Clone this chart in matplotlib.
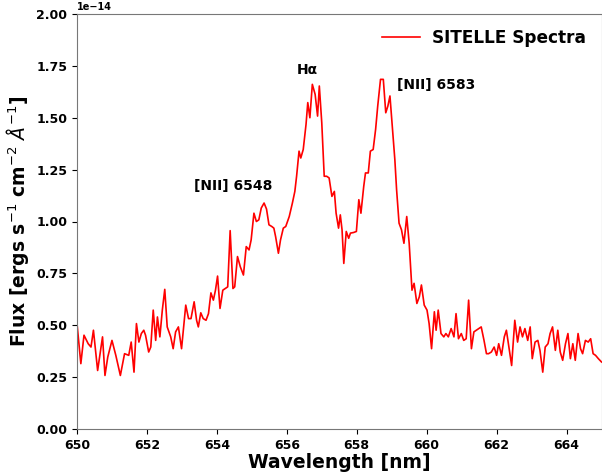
import matplotlib
matplotlib.use("Agg")
import matplotlib.pyplot as plt
import numpy as np

# Wavelength [nm]
wavelength = [
    650.00, 650.11, 650.20, 650.32, 650.40, 650.47, 650.59, 650.73, 650.80, 650.88,
    651.00, 651.11, 651.24, 651.36, 651.48, 651.55, 651.63, 651.70, 651.77, 651.84,
    651.91, 651.96, 652.05, 652.11, 652.18, 652.25, 652.30, 652.37, 652.44, 652.51,
    652.58, 652.68, 652.75, 652.82, 652.90, 652.99, 653.11, 653.19, 653.26, 653.35,
    653.42, 653.47, 653.54, 653.61, 653.69, 653.76, 653.83, 653.90, 653.96, 654.02,
    654.09, 654.17, 654.24, 654.31, 654.38, 654.46, 654.51, 654.59, 654.67, 654.76,
    654.84, 654.92, 654.98, 655.06, 655.13, 655.20, 655.27, 655.35, 655.42, 655.49,
    655.57, 655.63, 655.68, 655.76, 655.82, 655.90, 655.97, 656.07, 656.16, 656.23,
    656.28, 656.35, 656.40, 656.47, 656.55, 656.60, 656.66, 656.73, 656.81, 656.88,
    656.93, 657.00, 657.07, 657.14, 657.21, 657.29, 657.36, 657.41, 657.48, 657.53,
    657.58, 657.63, 657.70, 657.77, 657.82, 657.91, 657.99, 658.06, 658.12, 658.20,
    658.25, 658.33, 658.39, 658.47, 658.54, 658.60, 658.68, 658.76, 658.83, 658.89,
    658.95, 659.02, 659.09, 659.14, 659.21, 659.28, 659.35, 659.43, 659.50, 659.58,
    659.64, 659.72, 659.79, 659.85, 659.93, 660.01, 660.07, 660.14, 660.22, 660.27,
    660.33, 660.41, 660.49, 660.55, 660.62, 660.70, 660.78, 660.84, 660.91, 660.99,
    661.06, 661.13, 661.20, 661.28, 661.35, 661.42, 661.56, 661.64, 661.71, 661.77,
    661.85, 661.93, 662.00, 662.06, 662.14, 662.22, 662.28, 662.35, 662.43, 662.52,
    662.60, 662.67, 662.74, 662.81, 662.89, 662.96, 663.02, 663.10, 663.18, 663.24,
    663.32, 663.39, 663.47, 663.53, 663.60, 663.68, 663.75, 663.82, 663.89, 663.97,
    664.04, 664.11, 664.18, 664.25, 664.33, 664.40, 664.46, 664.54, 664.62, 664.69,
    664.76, 664.83, 664.91, 665.00,
]

# Flux in units of 1e-14 ergs s^-1 cm^-2 A^-1
flux_e14 = [
    0.508, 0.315, 0.452, 0.411, 0.395, 0.476, 0.282, 0.444, 0.258, 0.347,
    0.427, 0.355, 0.258, 0.363, 0.355, 0.419, 0.274, 0.508, 0.419, 0.460,
    0.476, 0.452, 0.371, 0.395, 0.573, 0.427, 0.540, 0.444, 0.573, 0.673,
    0.492, 0.444, 0.387, 0.468, 0.492, 0.387, 0.597, 0.532, 0.532, 0.613,
    0.524, 0.492, 0.560, 0.532, 0.524, 0.556, 0.656, 0.621, 0.669, 0.737,
    0.581, 0.669, 0.677, 0.685, 0.956, 0.677, 0.685, 0.831, 0.782, 0.742,
    0.879, 0.863, 0.911, 1.040, 1.000, 1.008, 1.065, 1.089, 1.060, 0.984,
    0.976, 0.968, 0.927, 0.847, 0.911, 0.968, 0.976, 1.024, 1.089, 1.145,
    1.218, 1.339, 1.306, 1.347, 1.468, 1.573, 1.500, 1.661, 1.613, 1.508,
    1.653, 1.476, 1.218, 1.218, 1.210, 1.121, 1.145, 1.040, 0.968, 1.032,
    0.960, 0.798, 0.952, 0.919, 0.944, 0.947, 0.952, 1.105, 1.040, 1.169,
    1.234, 1.234, 1.339, 1.347, 1.444, 1.556, 1.685, 1.685, 1.524, 1.556,
    1.605, 1.452, 1.298, 1.153, 0.992, 0.960, 0.895, 1.024, 0.895, 0.669,
    0.702, 0.605, 0.637, 0.694, 0.597, 0.573, 0.508, 0.387, 0.565, 0.476,
    0.573, 0.460, 0.444, 0.460, 0.444, 0.484, 0.444, 0.556, 0.435, 0.460,
    0.427, 0.435, 0.621, 0.387, 0.468, 0.476, 0.492, 0.427, 0.363, 0.363,
    0.371, 0.395, 0.355, 0.411, 0.355, 0.444, 0.476, 0.395, 0.306, 0.524,
    0.419, 0.492, 0.444, 0.484, 0.427, 0.492, 0.339, 0.419, 0.427, 0.379,
    0.274, 0.395, 0.411, 0.460, 0.492, 0.379, 0.476, 0.371, 0.331, 0.411,
    0.460, 0.339, 0.411, 0.331, 0.460, 0.387, 0.363, 0.427, 0.419, 0.435,
    0.363, 0.355, 0.339, 0.323,
]

line_labels = ["H\u03b1", "[NII] 6548", "[NII] 6583"]
label_x = [656.6, 654.46, 659.14]
label_y = [1.73, 1.17, 1.66]

x_ticks = [650, 652, 654, 656, 658, 660, 662, 664]
y_ticks = [0.0, 0.25, 0.5, 0.75, 1.0, 1.25, 1.5, 1.75, 2.0]

plt.rcParams['font.family'] = ['DejaVu Sans']

fig = plt.figure(figsize=(6.02, 4.72), dpi=100)
ax = fig.add_axes([77 / 602, 43 / 472, 524.5 / 602, 415 / 472])

scale = 1e-14
ax.plot(wavelength, np.array(flux_e14) * scale, color='red', lw=1.2,
        label='SITELLE Spectra')

ax.set_xlim(650, 665)
ax.set_ylim(0, 2.0e-14)
ax.set_xticks(x_ticks)
ax.set_yticks(np.array(y_ticks) * scale)
ax.tick_params(labelsize=9)
for lbl in ax.get_xticklabels() + ax.get_yticklabels():
    lbl.set_fontweight('bold')
ax.yaxis.get_offset_text().set_fontsize(7)
ax.yaxis.get_offset_text().set_fontweight('bold')

ax.set_xlabel('Wavelength [nm]', fontsize=13.5, fontweight='bold', labelpad=1)
ax.set_ylabel(r'Flux [ergs s$^{-1}$ cm$^{-2}$ $\AA^{-1}$]', fontsize=13.5,
              fontweight='bold', labelpad=4)

ha_list = ['center', 'center', 'left']
for t, xv, yv, ha in zip(line_labels, label_x, label_y, ha_list):
    ax.text(xv, yv * scale, t, fontsize=10, fontweight='bold', ha=ha, va='center')

for s in ax.spines.values():
    s.set_color('#777777')

leg = ax.legend(loc='upper right', frameon=False, handlelength=2.2,
                handletextpad=0.75, prop={'weight': 'bold', 'size': 12.2})

fig.savefig('out.png', dpi=100)
